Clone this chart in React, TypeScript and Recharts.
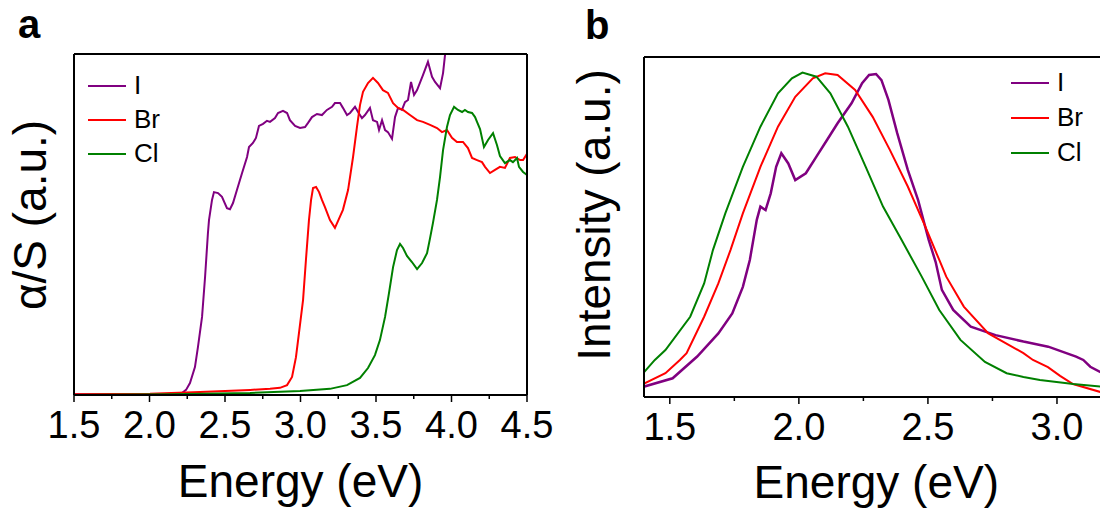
import React from 'react';
import { LineChart, Line, XAxis, YAxis, Legend, Label } from 'recharts';

// Panel a: absorption (alpha/S), energy in eV vs normalized value
const absI: [number, number][] = [
  [1.5, 0.2], [1.805, 0.2], [2.07, 0.2], [2.169, 0.3], [2.215, 0.6], [2.242, 1.5], [2.268, 3.5], [2.301, 8.2],
  [2.321, 14.1], [2.348, 22.9], [2.368, 34.6], [2.387, 47.5], [2.394, 51.3], [2.414, 57.2], [2.427, 59.5],
  [2.454, 59.2], [2.48, 58.1], [2.513, 54.8], [2.533, 54.5], [2.553, 56.3], [2.579, 60.1], [2.613, 65.1],
  [2.646, 69.8], [2.659, 72.7], [2.685, 73.9], [2.705, 75.4], [2.725, 78.9], [2.752, 79.5], [2.778, 80.4],
  [2.798, 80.1], [2.831, 81.2], [2.851, 82.7], [2.884, 83.3], [2.911, 82.7], [2.93, 80.6], [2.964, 78.9],
  [2.997, 78.3], [3.03, 78.6], [3.05, 79.8], [3.076, 81.5], [3.109, 82.4], [3.142, 82.1], [3.175, 83.6],
  [3.209, 84.5], [3.228, 85.6], [3.262, 85.6], [3.281, 84.2], [3.308, 82.1], [3.328, 82.7], [3.361, 84.5],
  [3.381, 83.0], [3.407, 81.2], [3.427, 82.1], [3.46, 84.2], [3.48, 80.6], [3.507, 80.1], [3.52, 77.7],
  [3.54, 80.6], [3.56, 77.7], [3.579, 77.1], [3.606, 75.1], [3.626, 81.5], [3.646, 84.2], [3.672, 83.6],
  [3.692, 85.9], [3.712, 86.5], [3.732, 91.8], [3.752, 88.0], [3.772, 89.4], [3.811, 93.8], [3.844, 97.7],
  [3.871, 93.3], [3.891, 91.8], [3.924, 90.0], [3.944, 94.4], [3.957, 99.7], [3.977, 105.6],
];

const absBr: [number, number][] = [
  [1.5, 0.2], [2.003, 0.4], [2.334, 0.9], [2.666, 1.5], [2.798, 1.8], [2.864, 2.1], [2.911, 2.9], [2.944, 5.3],
  [2.97, 11.1], [2.99, 18.2], [3.017, 27.9], [3.036, 39.6], [3.056, 51.3], [3.07, 57.2], [3.083, 60.7],
  [3.103, 61.0], [3.123, 59.5], [3.142, 57.2], [3.162, 55.1], [3.195, 51.3], [3.228, 49.0], [3.248, 51.0],
  [3.281, 54.3], [3.315, 60.1], [3.348, 69.8], [3.374, 78.6], [3.394, 85.0], [3.414, 88.9], [3.447, 91.5],
  [3.48, 93.0], [3.513, 91.5], [3.546, 89.4], [3.579, 88.6], [3.613, 85.6], [3.646, 84.2], [3.679, 83.6],
  [3.725, 82.1], [3.772, 80.6], [3.811, 80.1], [3.858, 79.2], [3.904, 78.3], [3.937, 77.1], [3.97, 77.7],
  [4.003, 75.4], [4.036, 74.2], [4.076, 74.2], [4.109, 72.4], [4.136, 69.5], [4.169, 68.9], [4.202, 68.3],
  [4.222, 66.9], [4.255, 65.1], [4.288, 66.0], [4.321, 66.9], [4.354, 66.6], [4.387, 69.5], [4.421, 69.8],
  [4.454, 68.9], [4.474, 68.9], [4.5, 70.7],
];

const absCl: [number, number][] = [
  [1.5, 0], [2.136, 0.2], [2.666, 0.6], [2.997, 1.2], [3.195, 1.8], [3.308, 2.9], [3.394, 5.0], [3.447, 7.9],
  [3.493, 11.7], [3.526, 16.1], [3.56, 22.9], [3.586, 29.9], [3.613, 37.5], [3.639, 42.5], [3.659, 44.3],
  [3.679, 43.1], [3.705, 40.8], [3.738, 39.0], [3.772, 36.9], [3.805, 38.7], [3.838, 41.6], [3.858, 46.0],
  [3.877, 50.4], [3.904, 57.2], [3.924, 63.9], [3.944, 71.8], [3.97, 78.6], [3.99, 82.1], [4.017, 84.5],
  [4.043, 83.6], [4.07, 83.0], [4.089, 83.6], [4.109, 83.0], [4.136, 82.7], [4.156, 81.5], [4.169, 80.1],
  [4.189, 78.0], [4.215, 72.7], [4.242, 74.8], [4.275, 76.8], [4.301, 73.3], [4.321, 70.1], [4.354, 68.0],
  [4.387, 68.9], [4.407, 68.3], [4.434, 69.5], [4.447, 66.9], [4.474, 65.4], [4.5, 64.5],
];

// Panel b: photoluminescence intensity
const plI: [number, number][] = [
  [1.397, 3.0], [1.511, 5.5], [1.606, 11.9], [1.688, 18.7], [1.742, 24.6], [1.783, 32.4], [1.81, 40.3],
  [1.837, 52.1], [1.851, 56.0], [1.871, 55.0], [1.891, 59.9], [1.912, 67.7], [1.932, 71.7], [1.959, 68.7],
  [1.986, 63.8], [2.027, 65.8], [2.068, 70.7], [2.109, 75.6], [2.15, 80.5], [2.204, 86.4], [2.245, 92.3],
  [2.272, 94.7], [2.299, 95.0], [2.32, 93.2], [2.347, 87.4], [2.381, 77.6], [2.422, 66.8], [2.462, 57.9],
  [2.503, 46.2], [2.53, 39.7], [2.554, 31.5], [2.598, 25.6], [2.666, 20.7], [2.762, 18.2], [2.87, 16.3],
  [2.966, 14.8], [3.074, 11.9], [3.102, 10.9], [3.129, 8.9], [3.167, 7.4], [3.2, 5.5],
];

const plBr: [number, number][] = [
  [1.397, 3.8], [1.483, 7.0], [1.539, 10.9], [1.565, 12.9], [1.633, 23.6], [1.688, 33.4], [1.735, 43.2],
  [1.783, 54.0], [1.851, 67.7], [1.919, 79.5], [1.986, 88.3], [2.054, 93.7], [2.102, 95.2], [2.15, 94.7],
  [2.218, 90.3], [2.286, 82.4], [2.353, 72.6], [2.422, 61.9], [2.49, 50.1], [2.544, 40.3], [2.571, 35.4],
  [2.639, 26.6], [2.734, 18.7], [2.87, 12.9], [2.907, 10.9], [2.965, 8.8], [3.012, 6.2], [3.062, 3.8],
  [3.167, 1.5], [3.2, 1.2],
];

const plCl: [number, number][] = [
  [1.397, 7.0], [1.442, 10.9], [1.483, 13.8], [1.579, 23.6], [1.633, 33.4], [1.667, 43.2], [1.715, 54.0],
  [1.783, 67.7], [1.851, 79.5], [1.919, 89.3], [1.973, 93.7], [2.014, 95.4], [2.068, 94.2], [2.122, 89.3],
  [2.19, 79.5], [2.259, 67.7], [2.326, 56.0], [2.395, 46.6], [2.476, 35.4], [2.544, 25.6], [2.626, 16.8],
  [2.721, 10.3], [2.805, 7.0], [2.87, 5.9], [2.934, 5.0], [3.063, 3.8], [3.167, 3.1], [3.2, 2.9],
];

const seriesNames = ['I', 'Br', 'Cl'];
const seriesColors = ['#800080', '#ff0000', '#008000'];
const ticksA = [1.5, 1.75, 2.0, 2.25, 2.5, 2.75, 3.0, 3.25, 3.5, 3.75, 4.0, 4.25, 4.5];
const ticksB = [1.5, 1.75, 2.0, 2.25, 2.5, 2.75, 3.0];
const domainA: [number, number] = [1.5, 4.5];
const domainB: [number, number] = [1.4, 3.2];

const toData = (pts: [number, number][]) => pts.map(([e, v]) => ({ e, v }));
const absSeries = [absI, absBr, absCl].map(toData);
const plSeries = [plI, plBr, plCl].map(toData);

const FONT = '"Liberation Sans", Arial, Helvetica, sans-serif';
const frame = { stroke: '#000', strokeWidth: 2 };

const EnergyTick = (props: any) => {
  const { x, y, payload } = props;
  const val = Number(payload.value);
  const major = Math.abs(val * 2 - Math.round(val * 2)) < 1e-6;
  return (
    <g>
      <line x1={x} x2={x} y1={y} y2={y + (major ? 7 : 4)} stroke="#000" strokeWidth={1.5} />
      {major && (
        <text x={x} y={y + 43} textAnchor="middle" fontSize={38} fill="#000" fontFamily={FONT}>
          {val.toFixed(1)}
        </text>
      )}
    </g>
  );
};

const makeLegend = (lx: number, ly: number, gap: number) => () => (
  <svg width={130} height={130} style={{ display: 'block' }}>
    {seriesNames.map((n, i) => (
      <g key={n}>
        <line x1={lx} x2={lx + 38} y1={ly + gap * i} y2={ly + gap * i} stroke={seriesColors[i]} strokeWidth={2} />
        <text x={lx + 46} y={ly + gap * i + 8} fontSize={26} fill="#000" fontFamily={FONT}>
          {n}
        </text>
      </g>
    ))}
  </svg>
);

const xTitle = (dy: number) => (p: any) => {
  const vb = p.viewBox || {};
  return (
    <text x={vb.x + vb.width / 2} y={vb.y + dy} textAnchor="middle" fontSize={46} fill="#000" fontFamily={FONT}>
      Energy (eV)
    </text>
  );
};

const yTitle = (text: string, bx: number, cy: number, letter: string, lx: number, ly: number) => () => (
  <g>
    <text
      x={bx}
      y={cy}
      transform={`rotate(-90, ${bx}, ${cy})`}
      textAnchor="middle"
      fontSize={46}
      fill="#000"
      fontFamily={FONT}
    >
      {text}
    </text>
    <text x={lx} y={ly} fontSize={40} fontWeight="bold" fill="#000" fontFamily={FONT}>
      {letter}
    </text>
  </g>
);

export default function App() {
  return (
    <div
      style={{
        position: 'absolute',
        left: 0,
        top: 0,
        width: 1100,
        height: 510,
        overflow: 'hidden',
        background: '#fff',
        fontFamily: FONT,
      }}
    >
      <div style={{ position: 'absolute', left: 0, top: 0 }}>
        <LineChart width={560} height={510} margin={{ top: 53, right: 32, bottom: 114, left: 73 }}>
          <XAxis
            xAxisId="x"
            dataKey="e"
            type="number"
            domain={domainA}
            ticks={ticksA}
            interval={0}
            tickSize={0}
            tickMargin={0}
            tick={EnergyTick}
            tickLine={false}
            height={1}
            axisLine={frame}
            allowDataOverflow
          >
            <Label content={xTitle(102)} />
          </XAxis>
          <XAxis xAxisId="t" orientation="top" type="number" domain={domainA} tick={false} tickLine={false} height={1} axisLine={frame} />
          <YAxis yAxisId="y" type="number" domain={[0, 100]} tick={false} tickLine={false} width={1} axisLine={frame} allowDataOverflow>
            <Label content={yTitle('α/S (a.u.)', 46, 215, 'a', 18, 38)} />
          </YAxis>
          <YAxis yAxisId="r" orientation="right" type="number" domain={[0, 100]} tick={false} tickLine={false} width={1} axisLine={frame} />
          <Legend
            layout="vertical"
            align="center"
            verticalAlign="middle"
            wrapperStyle={{ left: 80, top: 60, width: 130, height: 130 }}
            content={makeLegend(8, 26, 34)}
          />
          {absSeries.map((d, i) => (
            <Line
              key={seriesNames[i]}
              xAxisId="x"
              yAxisId="y"
              data={d}
              dataKey="v"
              name={seriesNames[i]}
              type="linear"
              stroke={seriesColors[i]}
              strokeWidth={2}
              dot={false}
              isAnimationActive={false}
            />
          ))}
        </LineChart>
      </div>
      <div style={{ position: 'absolute', left: 560, top: 0 }}>
        <LineChart width={600} height={510} margin={{ top: 56, right: 50.4, bottom: 112, left: 83 }}>
          <XAxis
            xAxisId="x"
            dataKey="e"
            type="number"
            domain={domainB}
            ticks={ticksB}
            interval={0}
            tickSize={0}
            tickMargin={0}
            tick={EnergyTick}
            tickLine={false}
            height={1}
            axisLine={frame}
            allowDataOverflow
          >
            <Label content={xTitle(101)} />
          </XAxis>
          <XAxis xAxisId="t" orientation="top" type="number" domain={domainB} tick={false} tickLine={false} height={1} axisLine={frame} />
          <YAxis yAxisId="y" type="number" domain={[0, 100]} tick={false} tickLine={false} width={1} axisLine={frame} allowDataOverflow>
            <Label content={yTitle('Intensity (a.u.)', 50, 215, 'b', 25, 39)} />
          </YAxis>
          <YAxis yAxisId="r" orientation="right" type="number" domain={[0, 100]} tick={false} tickLine={false} width={1} axisLine={frame} />
          <Legend
            layout="vertical"
            align="center"
            verticalAlign="middle"
            wrapperStyle={{ left: 445, top: 60, width: 130, height: 130 }}
            content={makeLegend(6, 23, 35)}
          />
          {plSeries.map((d, i) => (
            <Line
              key={seriesNames[i]}
              xAxisId="x"
              yAxisId="y"
              data={d}
              dataKey="v"
              name={seriesNames[i]}
              type="linear"
              stroke={seriesColors[i]}
              strokeWidth={i === 0 ? 2.5 : 2}
              dot={false}
              isAnimationActive={false}
            />
          ))}
        </LineChart>
      </div>
    </div>
  );
}
